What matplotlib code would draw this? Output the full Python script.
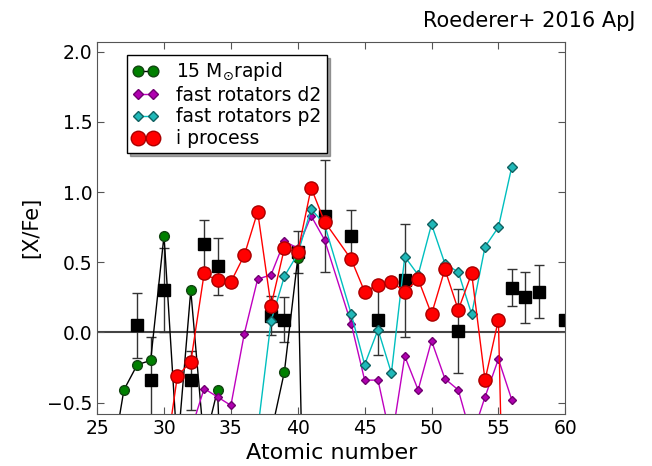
import numpy as np
import matplotlib
matplotlib.use("Agg")
import matplotlib.pyplot as plt

# model curves (atomic number, [X/Fe])
z_rapid = [26, 27, 28, 29, 30, 31, 32, 33, 34, 35, 36, 37, 38, 39, 40, 41]
x_rapid = [-0.98, -0.41, -0.23, -0.20, 0.69, -0.84, 0.30, -0.80, -0.41, -2.8,
           -2.5, -2.0, -0.72, -0.28, 0.53, -4.0]

z_d2 = [32, 33, 34, 35, 36, 37, 38, 39, 40, 41, 42, 44, 45, 46, 47, 48, 49,
        50, 51, 52, 53, 54, 55, 56]
x_d2 = [-0.70, -0.40, -0.46, -0.52, -0.01, 0.38, 0.41, 0.65, 0.60, 0.83, 0.66,
        0.06, -0.34, -0.34, -0.78, -0.17, -0.41, -0.06, -0.33, -0.41, -0.75,
        -0.46, -0.19, -0.48]

z_p2 = [37, 38, 39, 40, 41, 42, 44, 45, 46, 47, 48, 49, 50, 51, 52, 53, 54,
        55, 56]
x_p2 = [-0.70, 0.08, 0.40, 0.56, 0.88, 0.77, 0.13, -0.23, 0.02, -0.29, 0.54,
        0.41, 0.77, 0.49, 0.43, 0.13, 0.61, 0.75, 1.18]

z_ip = [30, 31, 32, 33, 34, 35, 36, 37, 38, 39, 40, 41, 42, 44, 45, 46, 47,
        48, 49, 50, 51, 52, 53, 54, 55, 56]
x_ip = [-0.97, -0.31, -0.21, 0.42, 0.37, 0.36, 0.55, 0.86, 0.19, 0.60, 0.57,
        1.03, 0.79, 0.52, 0.29, 0.34, 0.36, 0.29, 0.38, 0.13, 0.45, 0.16,
        0.42, -0.34, 0.09, -4.0]

# observed abundances
z_obs = [28, 29, 30, 32, 33, 34, 38, 39, 40, 42, 44, 46, 48, 52, 56, 57, 58, 60]
x_obs = [0.05, -0.34, 0.30, -0.34, 0.63, 0.47, 0.12, 0.09, 0.57, 0.83, 0.69,
         0.09, 0.37, 0.01, 0.32, 0.25, 0.29, 0.09]
e_obs = [0.23, 0.31, 0.30, 0.21, 0.17, 0.20, 0.14, 0.16, 0.15, 0.40, 0.18,
         0.25, 0.40, 0.30, 0.13, 0.18, 0.19, 0.0]

fig = plt.figure(figsize=(6.52, 4.66), dpi=100)
ax = fig.add_axes([0.149, 0.112, 0.718, 0.798])

ax.axhline(0, color="#444444", lw=1.5, zorder=1)
ax.errorbar(z_obs, x_obs, yerr=e_obs, fmt="s", color="k", ecolor="#333333",
            elinewidth=1.0, capsize=3.5, capthick=1.0, markersize=8, zorder=2)

ax.plot(z_rapid, x_rapid, "-o", color="k", lw=1.0, mfc="green", mec="#114411",
        ms=7, label=r"15 M$_{\odot}$rapid", zorder=3)
ax.plot(z_d2, x_d2, "-D", color="m", lw=1.0, mfc="#b000b0", mec="#700070",
        ms=4.5, label="fast rotators d2", zorder=3)
ax.plot(z_p2, x_p2, "-D", color="c", lw=1.0, mfc="#20b8b8", mec="#106060",
        ms=5, label="fast rotators p2", zorder=3)
ax.plot(z_ip, x_ip, "-o", color="r", lw=1.0, mfc="red", mec="#aa0000",
        ms=9.5, label="i process", zorder=4)

ax.set_xlim(25, 60)
ax.set_ylim(-0.58, 2.07)
ax.set_xticks(np.arange(25, 61, 5))
ax.set_yticks(np.arange(-0.5, 2.01, 0.5))
ax.tick_params(direction="in", top=True, right=True, labelsize=13.5,
               length=5, color="#555555")
for s in ax.spines.values():
    s.set_color("#555555")
ax.set_xlabel("Atomic number", fontsize=16)
ax.set_ylabel("[X/Fe]", fontsize=15)

ax.legend(loc="upper left", bbox_to_anchor=(0.064, 0.965), borderaxespad=0,
          numpoints=2, fontsize=13.5, handlelength=1.4, handletextpad=0.95,
          labelspacing=0.14, borderpad=0.28, fancybox=False, shadow=True,
          framealpha=1, edgecolor="k", markerscale=1.1)

fig.text(0.975, 0.955, "Roederer+ 2016 ApJ", ha="right", va="center",
         fontsize=15)

fig.savefig("out.png", dpi=100)
